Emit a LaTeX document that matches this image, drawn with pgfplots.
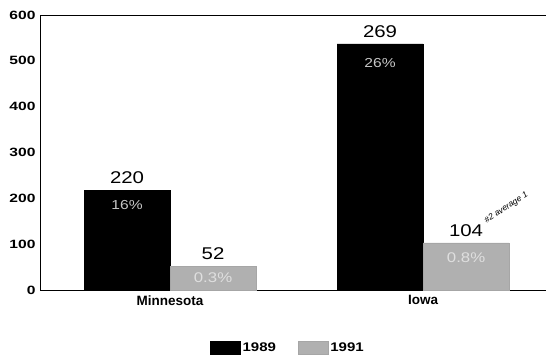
\documentclass[border=0pt]{standalone}
\usepackage{fontspec}
\setmainfont{Liberation Sans}
\newfontfamily\wide[FakeStretch=1.2]{Liberation Sans}
\newfontfamily\wider[FakeStretch=1.3]{Liberation Sans}
\usepackage{pgfplots}
\usepackage{pgfplotstable}
\pgfplotsset{compat=1.18}
\pgfplotstableread{
x y lab
0 218 220
1 537 269
}\dataA
\pgfplotstableread{
x y lab
0 52 52
1 103 104
}\dataB
\begin{document}
\begin{tikzpicture}
\begin{axis}[
  scale only axis, width=506pt, height=275pt,
  ybar=0pt, bar width=86pt,
  xmin=-0.514, xmax=1.486, ymin=0, ymax=600,
  xtick={0,1}, xticklabels={Minnesota,Iowa},
  ytick={0,100,200,300,400,500,600},
  major tick length=0pt,
  axis line style={line width=0.9pt},
  /pgf/number format/assume math mode=true,
  yticklabel style={font=\wider\bfseries\fontsize{12}{12}\selectfont, xshift=-1pt},
  xticklabel style={font=\bfseries\fontsize{13.5}{14}\selectfont, yshift=-2pt},
  point meta=explicit symbolic,
  nodes near coords,
  nodes near coords style={font=\wide\fontsize{17}{17}\selectfont, anchor=south, yshift=5pt, inner sep=1pt},
  legend columns=2,
  legend style={draw=none, at={(0.49,-0.211)}, anchor=center,
    font=\wide\bfseries\fontsize{12.5}{13}\selectfont,
    /tikz/every even column/.append style={column sep=20pt}},
  legend image code/.code={\fill[#1] (0pt,-6.5pt) rectangle (30pt,6.5pt);},
]
\addplot[fill=black, draw=black] table[x=x, y=y, meta=lab] {\dataA};
\addplot[fill=gray!62, draw=gray!70] table[x=x, y=y, meta=lab] {\dataB};
\legend{1989,1991}
\node[text=gray!45, font=\wide\fontsize{13}{13}\selectfont] at (axis cs:-0.17,185) {16\%};
\node[text=white!75!gray, font=\wide\fontsize{14}{14}\selectfont] at (axis cs:0.17,26) {0.3\%};
\node[text=gray!45, font=\wide\fontsize{13}{13}\selectfont] at (axis cs:0.83,495) {26\%};
\node[text=white!75!gray, font=\wide\fontsize{14}{14}\selectfont] at (axis cs:1.17,70) {0.8\%};
\node[rotate=33, anchor=south west, font=\itshape\fontsize{8.5}{9}\selectfont, inner sep=0pt] at (axis cs:1.255,142) {\#2 average 1};
\end{axis}
\pgfresetboundingbox
\path ([shift={(-40pt,-69pt)}]current axis.south west) rectangle ([yshift=15pt]current axis.north east);
\end{tikzpicture}
\end{document}
